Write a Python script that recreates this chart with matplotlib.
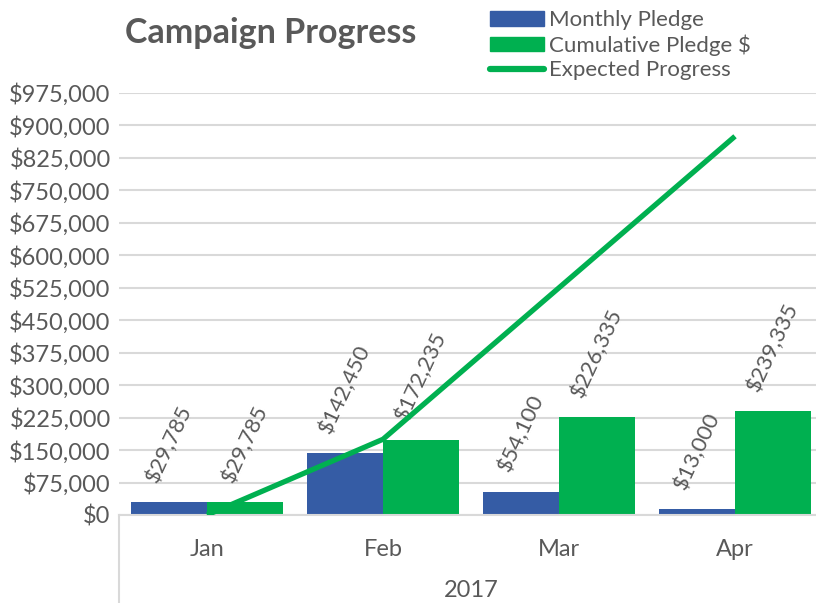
import numpy as np
import matplotlib
matplotlib.use("Agg")
import matplotlib.pyplot as plt
from matplotlib.patches import Patch
from matplotlib.lines import Line2D
from matplotlib.ticker import FuncFormatter, MultipleLocator
import matplotlib.transforms as mtransforms

plt.rcParams['font.family'] = ['Lato', 'DejaVu Sans']

months = ["Jan", "Feb", "Mar", "Apr"]
year = "2017"
monthly = [29785, 142450, 54100, 13000]
cumulative = [29785, 172235, 226335, 239335]
expected = [0, 175000, 525000, 875000]

blue = "#355CA5"
green = "#00B050"
grey = "#595959"
grid_c = "#D9D9D9"

fig = plt.figure(figsize=(8.16, 6.03), dpi=100)
ax = fig.add_axes([119 / 816, 88 / 603, 704 / 816, 422 / 603])

x = np.arange(len(months))
w = 0.432
b1 = ax.bar(x - w / 2, monthly, w, color=blue, zorder=2)
b2 = ax.bar(x + w / 2, cumulative, w, color=green, zorder=2)
ax.plot(x, expected, color=green, lw=3.8, zorder=4, solid_capstyle='butt')

for bars, vals in ((b1, monthly), (b2, cumulative)):
    for r, v in zip(bars, vals):
        ax.annotate("${:,.0f}".format(v), (r.get_x() + r.get_width() / 2, v),
                    xytext=(0, 12), textcoords='offset points',
                    ha='center', va='bottom', rotation=65,
                    fontsize=16, color=grey, zorder=3)

ax.set_xlim(-0.5, 3.5)
ax.set_ylim(0, 975000)
ax.yaxis.set_major_locator(MultipleLocator(75000))
ax.yaxis.set_major_formatter(FuncFormatter(lambda v, p: "${:,.0f}".format(v)))
ax.grid(axis='y', color=grid_c, lw=1.5, zorder=0)
ax.set_axisbelow(True)
for s in ['left', 'right', 'top']:
    ax.spines[s].set_visible(False)
ax.spines['bottom'].set_color(grid_c)
ax.spines['bottom'].set_linewidth(1.5)
ax.tick_params(axis='both', length=0, colors=grey, labelsize=17)
ax.tick_params(axis='y', pad=6)
ax.set_xticks(x)
ax.set_xticklabels(months, fontsize=17)
ax.tick_params(axis='x', pad=17)

trans = mtransforms.blended_transform_factory(ax.transData, ax.transAxes)
ax.plot([-0.5, -0.5], [0, -0.3], color=grid_c, lw=1.5, transform=trans,
        clip_on=False)
ax.text(0.5, -0.18, year, transform=ax.transAxes, ha='center', va='center',
        fontsize=17, color=grey)

fig.text(125 / 816, 1 - 33 / 603, "Campaign Progress", fontsize=24.5,
         fontweight='bold', color=grey, ha='left', va='center')

handles = [Patch(color=blue), Patch(color=green),
           Line2D([], [], color=green, lw=4.5, solid_capstyle='round')]
labels = ["Monthly Pledge", "Cumulative Pledge $", "Expected Progress"]
fig.legend(handles, labels, loc='upper left', bbox_to_anchor=(481 / 816, 1 - 1 / 603),
           frameon=False, fontsize=16, handlelength=2.45, handleheight=0.65,
           handletextpad=0.2, labelspacing=0.2, labelcolor=grey,
           borderaxespad=0)

fig.savefig("out.png", dpi=100)
